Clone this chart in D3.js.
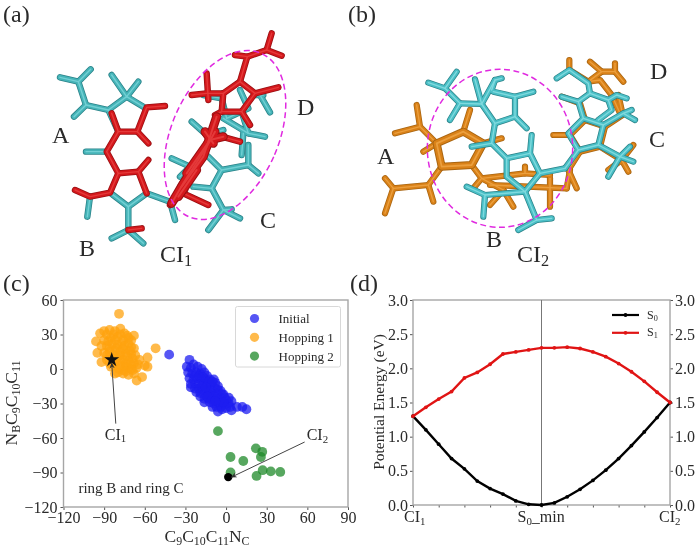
<!DOCTYPE html>
<html>
<head>
<meta charset="utf-8">
<script src="https://cdn.jsdelivr.net/npm/d3@7"></script>
<style>
	body { margin: 0; background: #fff; }
	svg { display: block; filter: blur(0.55px); }
	text { font-family: "Liberation Serif", serif; fill: #2a2a2a; }
</style>
</head>
<body>
<svg id="fig" width="700" height="556"></svg>
<script>
// panel c (dihedral angles in degrees)
const initialPts = [[-42,12.5],[-27,8],[-29,2],[-26,1],[-24,4],[-21,2],[-18,0],[-28,-3],[-25,-4],[-22,-3],[-19,-4],[-16,-3],[-14,-6],
	[-27,-8],[-24,-9],[-21,-8],[-18,-9],[-15,-9],[-12,-9],[-9,-9],[-26,-13],[-23,-13],[-20,-13],[-17,-13],[-14,-14],[-11,-13],[-8,-12],
	[-26,-16],[-23,-17],[-20,-17],[-17,-18],[-14,-18],[-11,-18],[-8,-17],[-6,-15],[-22,-20],[-19,-21],[-16,-22],[-13,-22],[-10,-22],[-7,-21],[-4,-19],
	[-19,-24],[-16,-26],[-13,-26],[-10,-26],[-7,-26],[-4,-25],[-2,-22],[-16,-29],[-12,-29],[-9,-30],[-6,-29],[-3,-29],[0,-27],[2,-25],
	[-10,-33],[-7,-33],[-4,-33],[-1,-31],[2,-30],[4,-28],[-6,-37],[-3,-35],[0,-34],[3,-33],[4,-36],[8,-33],[12,-33],[15,-35],
	[-23,-6],[-20,-6],[-17,-7],[-13,-11],[-10,-11],[-6,-18],[-3,-22],[-1,-25],[-12,-20],[-9,-24],[-5,-27],[-2,-29],[-14,-24],[-8,-28],[-18,-15],[-15,-16]];
const hop1Pts = [[-79,48],[-52,18],[-96,24],[-95,14],[-93,31],[-90,33],[-86,34],[-82,33],[-78,35],[-75,31],[-68,29],[-70,25],[-72,27],
	[-90,25],[-85,27],[-80,28],[-76,25],[-92,20],[-88,20],[-84,22],[-80,21],[-75,20],[-70,19],[-68,18],[-90,14],[-86,15],[-82,16],[-78,15],
	[-74,14],[-70,13],[-67,12],[-88,8],[-92,6],[-84,9],[-80,10],[-76,8],[-72,7],[-68,5],[-64,8],[-58,10],[-60,3],[-58,2],[-85,2],[-82,3],
	[-78,3],[-74,2],[-70,0],[-66,1],[-80,-3],[-76,-4],[-72,-5],[-82,-4],[-68,-4],[-62,-7],[-66,-10],[-72,1],[-76,-1],
	[-88,30],[-83,30],[-78,30],[-73,29],[-87,24],[-82,25],[-77,22],[-72,22],[-86,18],[-81,18],[-76,17],[-71,16],[-88,12],[-83,12],[-78,12],
	[-73,11],[-69,9],[-82,6],[-78,7],[-74,5],[-70,4],[-65,4],[-86,5],[-79,0],[-74,-2],[-69,-1]];
const hop2Pts = [[-6,-54],[22,-69],[26.7,-72],[25.7,-76.5],[3.3,-76.5],[12.7,-80],[3.3,-90],[27,-88],[33,-89],[40,-89.5],[22.5,-93]];
const ci1Pt = [-84.4, 8];
const ci2Pt = [1.6, -94];
const ciArrows = [
	{ from: [-81.4, -47.5], to: [-84.4, 5] },
	{ from: [58, -63.5], to: [4, -94] },
];
const scatterXTicks = [-120, -90, -60, -30, 0, 30, 60, 90];
const scatterYTicks = [-120, -90, -60, -30, 0, 30, 60];
const scatterLegend = ["Initial", "Hopping 1", "Hopping 2"];

// panel d, 21 points along the path
const s0 = [1.30,1.10,0.89,0.68,0.53,0.35,0.24,0.16,0.06,0.01,0.00,0.03,0.12,0.23,0.36,0.51,0.68,0.87,1.07,1.28,1.50];
const s1 = [1.30,1.43,1.55,1.66,1.86,1.94,2.06,2.21,2.24,2.27,2.30,2.30,2.31,2.29,2.24,2.17,2.07,1.95,1.81,1.65,1.50];
const energyTicks = [0, 0.5, 1, 1.5, 2, 2.5, 3];

// stick models, polylines in 1050 wide picture units
const cyanA = [
	[[180,232],[235,245],[272,208]], [[235,245],[258,315],[222,350]], [[258,315],[325,330],[380,290],[335,225]],
	[[380,290],[415,245]], [[380,290],[430,320]], [[325,330],[355,395]], [[320,455],[258,455]],
	[[270,590],[262,650]], [[330,578],[385,620],[440,580],[510,605]], [[385,620],[385,690],[335,715]], [[385,690],[430,730]],
	[[510,605],[525,660]],
	[[515,475],[570,500],[540,530]], [[625,470],[665,510],[745,495],[775,520]], [[745,495],[745,435]], [[665,510],[635,565],[580,560]],
	[[635,565],[670,630],[625,690]], [[670,630],[720,655]], [[670,630],[695,628]],
	[[610,285],[665,295],[680,355],[745,325],[720,270]], [[780,285],[810,337]], [[765,285],[790,285]],
	[[725,335],[745,400],[670,355]], [[745,400],[795,410]], [[730,400],[725,465]], [[575,365],[620,405],[670,390]],
];
const redA = [
	[[495,318],[440,322],[412,395],[355,395],[335,340]], [[412,395],[445,430]], [[355,395],[320,455],[355,520],[415,515],[440,580]],
	[[415,515],[445,480]], [[355,520],[330,578],[270,590],[225,570]], [[385,690],[425,685]],
	[[670,280],[720,245],[765,280],[725,335],[665,335],[670,280]], [[720,245],[742,170],[705,165]], [[742,170],[800,150],[815,100]], [[800,150],[845,167]],
	[[765,280],[835,262]], [[725,335],[750,375]], [[665,335],[645,345]], [[670,280],[620,280],[575,285]], [[620,220],[625,300]],
	[[550,580],[625,615]], [[510,615],[555,570]], [[630,400],[720,425]],
];
// the ring seen edge on, drawn fatter
const redEdge = [
	[[515,610],[550,550],[620,440],[645,395]], [[545,560],[610,470],[650,350]], [[615,395],[640,430]],
	[[560,520],[630,420],[670,410]], [[535,590],[590,510]],
];
const orangeNear = [
	[[260,430],[340,395],[400,430],[365,495],[275,500],[260,430]],
];
const orangeB = [
	[[135,400],[210,380],[200,315]], [[210,380],[260,430],[220,455]], [[340,395],[360,330]], [[400,430],[455,415]],
	[[365,495],[395,535],[370,565]], [[275,500],[235,555],[130,565],[105,535]], [[130,565],[105,640]], [[235,555],[250,605]],
	[[395,535],[525,520],[525,500]], [[525,520],[600,525]], [[395,535],[460,570],[420,615]], [[460,570],[490,620]],
	[[420,555],[650,565]], [[600,535],[600,620]], [[650,565],[660,510]],
	[[658,180],[658,210],[715,245],[750,240],[785,285],[810,340]], [[720,185],[755,215],[715,245]], [[755,215],[795,215],[820,245]], [[795,215],[795,190]],
	[[805,285],[815,330]], [[635,290],[690,310],[705,360],[660,405],[690,455],[750,440],[765,380],[825,340]], [[705,360],[765,380]], [[610,405],[660,405]],
	[[750,440],[815,480],[775,510]], [[815,480],[850,435]], [[815,480],[835,515]], [[690,455],[655,510],[680,565]],
];
const cyanB = [
	[[235,248],[285,265],[320,215]], [[285,265],[330,310],[300,360]], [[330,310],[395,312],[375,238]], [[395,312],[435,240],[455,235]], [[435,240],[425,270]],
	[[395,312],[435,370],[495,350],[495,290],[550,275]], [[495,290],[430,275]], [[495,350],[530,385]],
	[[435,370],[425,430],[470,475],[470,530],[525,575],[570,520],[540,460],[470,475]], [[540,460],[545,405]], [[425,430],[365,440]],
	[[525,575],[405,585],[350,560]], [[405,585],[400,650]], [[525,575],[560,660],[505,690]], [[560,660],[605,655]], [[570,520],[645,505]],
	[[620,235],[658,210],[715,250],[720,280]], [[635,290],[685,305],[720,280],[775,300],[785,330],[745,360]], [[685,305],[700,355]], [[775,300],[800,285],[830,295]],
	[[700,355],[655,400],[685,450],[745,435],[760,375],[700,355]], [[760,375],[820,340],[855,360]], [[820,340],[845,330]],
	[[745,435],[810,470],[775,530]], [[810,470],[850,485]], [[810,470],[840,440]], [[685,450],[645,505]],
];

// ring outlines around the twisted part, centre and radii in the same units
const ringsA = { cx: 675, cy: 405, rx: 160, ry: 268, rot: 24 };
const ringsB = { cx: 450, cy: 445, rx: 218, ry: 237, rot: 0 };

const svg = d3.select('#fig');
const sub = (sel, parts) => {
	// parts are [text, isSub, backFromSub]
	parts.forEach(p => {
		sel.append('tspan')
			.attr('font-size', p[1] ? '0.68em' : null)
			.attr('dy', p[1] ? '0.25em' : (p[2] ? '-0.17em' : null))
			.text(p[0]);
	});
	return sel;
};

function label(x, y, parts, size, anchor) {
	let t = svg.append('text').attr('x', x).attr('y', y)
		.attr('font-size', size).attr('text-anchor', anchor || 'start');
	sub(t, parts);
	return t;
}

const pic = d3.scaleLinear().domain([0, 1050]).range([0, 350]);

// ---- panels a and b ----
function sticks(g, lines, cols, wid) {
	let line = d3.line().x(d => pic(d[0])).y(d => pic(d[1]));
	let layers = [[cols[1], wid], [cols[0], wid * 0.76], [cols[2], wid * 0.22]];
	layers.forEach(l => {
		g.selectAll(null).data(lines).enter().append('path')
			.attr('d', line)
			.attr('fill', 'none')
			.attr('stroke', l[0])
			.attr('stroke-width', l[1])
			.attr('stroke-linecap', 'round')
			.attr('stroke-linejoin', 'round');
	});
}

function ring(g, r) {
	g.append('ellipse')
		.attr('rx', pic(r.rx)).attr('ry', pic(r.ry))
		.attr('transform', 'translate(' + pic(r.cx) + ',' + pic(r.cy) + ') rotate(' + r.rot + ')')
		.attr('fill', 'none')
		.attr('stroke', '#e02ae0')
		.attr('stroke-width', 1.5)
		.attr('stroke-dasharray', '6,3.5');
}

const cyanCols = ['#46b4b8', '#2a8288', '#72d0d4'];
const redCols = ['#d4181c', '#980f12', '#e43a3a'];
const orangeCols = ['#d98118', '#a86410', '#eb9f3e'];

let ga = svg.append('g');
sticks(ga, cyanA, cyanCols, 6.4);
sticks(ga, redA, redCols, 6.4);
sticks(ga, redEdge, redCols, 9);
ring(ga, ringsA);

let gb = svg.append('g').attr('transform', 'translate(350,0)');
sticks(gb, orangeB, orangeCols, 6.2);
sticks(gb, orangeNear, orangeCols, 8);
sticks(gb, cyanB, ['#4abfc6', '#2a8288', '#80dade'], 6.2);
ring(gb, ringsB);

label(3, 22, [['(a)']], 24);
label(348, 22, [['(b)']], 24);
label(3, 291, [['(c)']], 24);
label(350, 291, [['(d)']], 24);
label(52, 143, [['A']], 24);
label(79, 256, [['B']], 24);
label(160, 262, [['CI'], ['1', 1]], 24);
label(297, 115, [['D']], 24);
label(260, 228, [['C']], 24);
label(377, 164, [['A']], 24);
label(486, 247, [['B']], 24);
label(517, 262, [['CI'], ['2', 1]], 24);
label(650, 79, [['D']], 24);
label(649, 147, [['C']], 24);

// ---- panel c ----
let cw = { l: 63.5, r: 348, t: 300, b: 507 };
let xc = d3.scaleLinear().domain([-120, 90]).range([cw.l, cw.r]);
let yc = d3.scaleLinear().domain([-120, 60]).range([cw.b, cw.t]);

function frame(b) {
	svg.append('rect')
		.attr('x', b.l).attr('y', b.t)
		.attr('width', b.r - b.l).attr('height', b.b - b.t)
		.attr('fill', 'none').attr('stroke', '#a6a6a6').attr('stroke-width', 1.4);
}
function styleAxis(g, size) {
	g.select('.domain').remove();
	g.selectAll('line').attr('stroke', '#555');
	g.selectAll('text').attr('font-size', size).attr('font-family', '"Liberation Serif", serif').attr('fill', '#2a2a2a');
}

svg.append('g').attr('transform', 'translate(0,' + cw.b + ')')
	.call(d3.axisBottom(xc).tickValues(scatterXTicks).tickSize(3).tickPadding(2))
	.call(g => styleAxis(g, 16));
svg.append('g').attr('transform', 'translate(' + cw.l + ',0)')
	.call(d3.axisLeft(yc).tickValues(scatterYTicks).tickSize(3).tickPadding(3))
	.call(g => styleAxis(g, 16));

function dots(pts, col) {
	svg.append('g').selectAll('circle').data(pts).enter().append('circle')
		.attr('cx', d => xc(d[0])).attr('cy', d => yc(d[1]))
		.attr('r', 4.9).attr('fill', col).attr('fill-opacity', 0.75);
}
const colBlue = '#1e1ef0', colOrange = '#ffa30f', colGreen = '#1f8a2a';
dots(initialPts, colBlue);
dots(hop1Pts, colOrange);
dots(hop2Pts, colGreen);
frame(cw);

svg.append('path')
	.attr('d', d3.symbol(d3.symbolStar, 70)())
	.attr('transform', 'translate(' + xc(ci1Pt[0]) + ',' + yc(ci1Pt[1]) + ')')
	.attr('fill', '#111');
svg.append('circle').attr('cx', xc(ci2Pt[0])).attr('cy', yc(ci2Pt[1])).attr('r', 4.2).attr('fill', '#000');

svg.append('defs').append('marker')
	.attr('id', 'tip').attr('viewBox', '0 0 8 8').attr('refX', 7).attr('refY', 4)
	.attr('markerWidth', 6).attr('markerHeight', 6).attr('orient', 'auto')
	.append('path').attr('d', 'M0,0.5L8,4L0,7.5L2.5,4Z').attr('fill', '#333');
svg.selectAll('.ci-arrow').data(ciArrows).enter().append('line')
	.attr('class', 'ci-arrow')
	.attr('x1', d => xc(d.from[0])).attr('y1', d => yc(d.from[1]))
	.attr('x2', d => xc(d.to[0])).attr('y2', d => yc(d.to[1]))
	.attr('stroke', '#444').attr('stroke-width', 1)
	.attr('marker-end', 'url(#tip)');

label(xc(-89.5), yc(-61.5), [['CI'], ['1', 1]], 16);
label(xc(59.5), yc(-62), [['CI'], ['2', 1]], 16);
label(xc(-109), yc(-108), [['ring B and ring C']], 15);

// legend
let lg = { x: 235.5, y: 306.5, w: 105, h: 60.5 };
svg.append('rect').attr('x', lg.x).attr('y', lg.y).attr('width', lg.w).attr('height', lg.h)
	.attr('rx', 2).attr('fill', '#fff').attr('stroke', '#d8d8d8');
[colBlue, colOrange, colGreen].forEach((c, i) => {
	let yy = 318.5 + i * 18.8;
	svg.append('circle').attr('cx', 254.5).attr('cy', yy).attr('r', 4.6).attr('fill', c).attr('fill-opacity', 0.75);
	label(278.5, yy + 4.5, [[scatterLegend[i]]], 13);
});

label(207, 542, [['C'], ['9', 1], ['C', 0, 1], ['10', 1], ['C', 0, 1], ['11', 1], ['N', 0, 1], ['C', 1]], 17.5, 'middle');
label(0, 0, [['N'], ['B', 1], ['C', 0, 1], ['9', 1], ['C', 0, 1], ['10', 1], ['C', 0, 1], ['11', 1]], 17.5, 'middle')
	.attr('transform', 'translate(17,403) rotate(-90)');

// ---- panel d ----
let dw = { l: 413, r: 670, t: 300, b: 505 };
let xd = d3.scaleLinear().domain([0, s0.length - 1]).range([dw.l, dw.r]);
let yd = d3.scaleLinear().domain([0, 3]).range([dw.b, dw.t]);
let pathTicks = d3.range(0, s0.length, 2);

svg.append('g').attr('transform', 'translate(0,' + dw.b + ')')
	.call(d3.axisBottom(xd).tickValues(pathTicks).tickSize(2.5).tickFormat(''))
	.call(g => styleAxis(g, 15));
svg.append('g').attr('transform', 'translate(' + dw.l + ',0)')
	.call(d3.axisLeft(yd).tickValues(energyTicks).tickSize(3).tickPadding(2).tickFormat(d3.format('.1f')))
	.call(g => styleAxis(g, 16));
svg.append('g').attr('transform', 'translate(' + dw.r + ',0)')
	.call(d3.axisRight(yd).tickValues(energyTicks).tickSize(3).tickPadding(2).tickFormat(d3.format('.1f')))
	.call(g => styleAxis(g, 16));

frame(dw);
svg.append('line')
	.attr('x1', xd(10)).attr('x2', xd(10)).attr('y1', dw.t).attr('y2', dw.b)
	.attr('stroke', '#777').attr('stroke-width', 1);

function energy(vals, col) {
	let line = d3.line().x((d, i) => xd(i)).y(d => yd(d));
	svg.append('path').attr('d', line(vals)).attr('fill', 'none').attr('stroke', col).attr('stroke-width', 2.4);
	svg.append('g').selectAll('circle').data(vals).enter().append('circle')
		.attr('cx', (d, i) => xd(i)).attr('cy', d => yd(d)).attr('r', 1.9).attr('fill', col);
}
energy(s0, '#000');
energy(s1, '#e01414');

[['#000', '0'], ['#e01414', '1']].forEach((s, i) => {
	let yy = 315 + i * 17.8;
	svg.append('line').attr('x1', 612).attr('x2', 639).attr('y1', yy).attr('y2', yy)
		.attr('stroke', s[0]).attr('stroke-width', 2.2);
	svg.append('circle').attr('cx', 625.5).attr('cy', yy).attr('r', 1.9).attr('fill', s[0]);
	label(647, yy + 3.5, [['S'], [s[1], 1]], 12);
});

label(xd(0) - 9, 522, [['CI'], ['1', 1]], 16);
label(xd(10) - 24, 522, [['S'], ['0', 1], ['_min', 0, 1]], 16);
label(xd(20) - 11, 522, [['CI'], ['2', 1]], 16);
label(0, 0, [['Potential Energy (eV)']], 15.5, 'middle')
	.attr('transform', 'translate(384,402) rotate(-90)');
</script>
</body>
</html>
